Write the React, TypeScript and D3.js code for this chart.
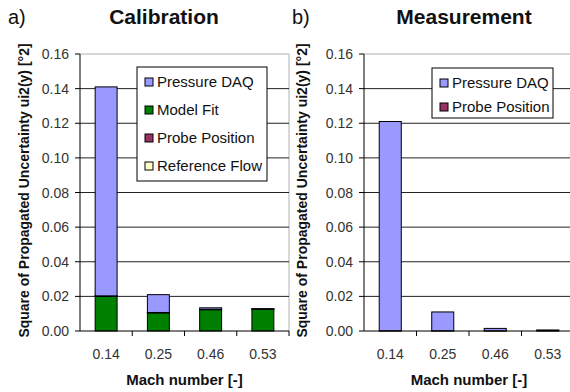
import React from "react";
import { scaleBand, scaleLinear, stack } from "d3";

// Mach numbers on the x axis
const categories = ["0.14", "0.25", "0.46", "0.53"];
const yTicks = [0, 0.02, 0.04, 0.06, 0.08, 0.1, 0.12, 0.14, 0.16];

// Calibration components (stacked)
const calModelFit = [0.02, 0.0105, 0.0123, 0.0125];
const calProbePosition = [0.0002, 0.0001, 0.0001, 0.0001];
const calReferenceFlow = [0.0001, 0.0001, 0.0001, 0.0001];
const calPressureDAQ = [0.1207, 0.0103, 0.0009, 0.0002];

// Measurement components (stacked)
const measProbePosition = [0.0001, 0.0001, 0.0001, 0.0002];
const measPressureDAQ = [0.1209, 0.0109, 0.0014, 0.0004];

const COLORS: Record<string, string> = {
  "Pressure DAQ": "#9999ff",
  "Model Fit": "#008000",
  "Probe Position": "#993366",
  "Reference Flow": "#ffffcc",
};

const FONT = "'Liberation Sans', Arial, sans-serif";

type Series = { name: string; values: number[] };

function Panel({ x0, x1, letter, title, series, legend, legendBox, legendStep, titleX, labelOffset }: any) {
  const top = 54;
  const bottom = 331;
  const scaleX = scaleBand().domain(categories).range([x0, x1]).paddingInner(0.58).paddingOuter(0.29);
  const scaleY = scaleLinear().domain([0, 0.16]).range([bottom, top]);

  const rows = categories.map((c, i) => {
    const r: any = { cat: c };
    (series as Series[]).forEach((s) => (r[s.name] = s.values[i]));
    return r;
  });
  const stacked = stack().keys((series as Series[]).map((s) => s.name))(rows);
  const step = (x1 - x0) / categories.length;

  return (
    <g fontFamily={FONT}>
      {/* plot area border */}
      <line x1={x0} x2={x1} y1={top} y2={top} stroke="#b0b0b0" />
      <line x1={x1} x2={x1} y1={top} y2={bottom} stroke="#b0b0b0" />
      {/* gridlines */}
      {yTicks.slice(1, -1).map((t) => (
        <line key={t} x1={x0} x2={x1} y1={scaleY(t)} y2={scaleY(t)} stroke="#222" strokeWidth={1} />
      ))}
      {/* bars */}
      {stacked.map((layer: any) =>
        layer.map((d: any, i: number) => {
          const h = scaleY(d[0]) - scaleY(d[1]);
          return (
            <rect
              key={layer.key + i}
              x={scaleX(categories[i])}
              y={scaleY(d[1])}
              width={scaleX.bandwidth()}
              height={Math.max(h, 0)}
              fill={COLORS[layer.key]}
              stroke="#000"
              strokeWidth={1}
            />
          );
        })
      )}
      {/* y axis */}
      <line x1={x0} x2={x0} y1={top} y2={bottom} stroke="#000" />
      {yTicks.map((t) => (
        <g key={t}>
          <line x1={x0 - 5} x2={x0} y1={scaleY(t)} y2={scaleY(t)} stroke="#000" />
          <text x={x0 - 11} y={scaleY(t) + 5} textAnchor="end" fontSize={14} fill="#333">
            {t.toFixed(2)}
          </text>
        </g>
      ))}
      {/* x axis */}
      <line x1={x0} x2={x1} y1={bottom} y2={bottom} stroke="#000" />
      {categories.map((c, i) => (
        <g key={c}>
          <line x1={x0 + step * (i + 1)} x2={x0 + step * (i + 1)} y1={bottom} y2={bottom + 5} stroke="#000" />
          <text x={(scaleX(c) as number) + scaleX.bandwidth() / 2} y={359} textAnchor="middle" fontSize={14} fill="#333">
            {c}
          </text>
        </g>
      ))}
      <text x={x0 + (x1 - x0) / 2} y={385} textAnchor="middle" fontSize={15} fontWeight="bold" fill="#111">
        Mach number [-]
      </text>
      {/* y label */}
      <text
        transform={`translate(${x0 - labelOffset},${(top + bottom) / 2 - 2}) rotate(-90)`}
        textAnchor="middle"
        fontSize={14}
        fontWeight="bold"
        fill="#111"
      >
        Square of Propagated Uncertainty ui2(y) [°2]
      </text>
      {/* titles */}
      <text x={x0 - 72} y={24} fontSize={20} fill="#111">
        {letter}
      </text>
      <text x={titleX} y={24} textAnchor="middle" fontSize={21} fontWeight="bold" fill="#111">
        {title}
      </text>
      {/* legend */}
      <rect x={legendBox[0]} y={legendBox[1]} width={legendBox[2]} height={legendBox[3]} fill="#fff" stroke="#000" />
      {legend.map((name: string, i: number) => {
        const cy = legendBox[1] + 15 + i * legendStep;
        return (
          <g key={name}>
            <rect x={legendBox[0] + 8} y={cy - 4} width={8} height={8} fill={COLORS[name]} stroke="#000" />
            <text x={legendBox[0] + 20} y={cy + 5} fontSize={15} fill="#111">
              {name}
            </text>
          </g>
        );
      })}
    </g>
  );
}

export default function App() {
  const calSeries: Series[] = [
    { name: "Model Fit", values: calModelFit },
    { name: "Probe Position", values: calProbePosition },
    { name: "Reference Flow", values: calReferenceFlow },
    { name: "Pressure DAQ", values: calPressureDAQ },
  ];
  const measSeries: Series[] = [
    { name: "Probe Position", values: measProbePosition },
    { name: "Pressure DAQ", values: measPressureDAQ },
  ];
  return (
    <svg width={570} height={392} style={{ position: "absolute", left: 0, top: 0, background: "#fff" }}>
      <rect width={570} height={392} fill="#fff" />
      <Panel
        x0={80}
        x1={289}
        letter="a)"
        title="Calibration"
        titleX={164}
        series={calSeries}
        legend={["Pressure DAQ", "Model Fit", "Probe Position", "Reference Flow"]}
        legendBox={[137, 67, 130, 114]}
        legendStep={28}
        labelOffset={51}
      />
      <Panel
        x0={364}
        x1={574}
        letter="b)"
        title="Measurement"
        titleX={464}
        series={measSeries}
        legend={["Pressure DAQ", "Probe Position"]}
        legendBox={[432, 68, 121, 50]}
        legendStep={24}
        labelOffset={57}
      />
    </svg>
  );
}
